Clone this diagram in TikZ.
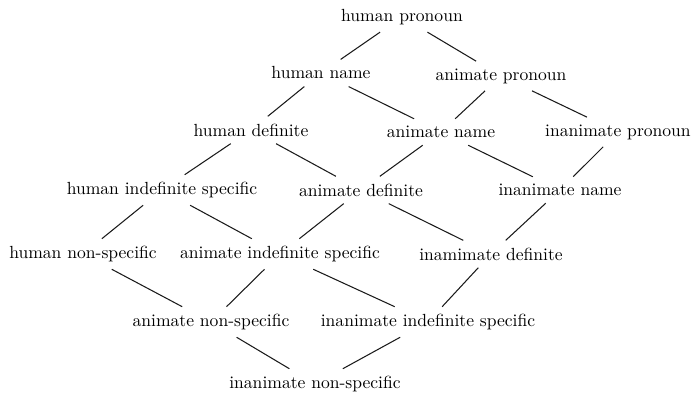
\documentclass[tikz,border=0pt]{standalone}
\usepackage{tikz}
\definecolor{latline}{HTML}{1a1a1a}
\tikzset{
  term/.style={inner xsep=2pt,inner ysep=4pt,font=\fontsize{10}{12}\selectfont},
  link/.style={latline,line width=0.6pt}
}
\begin{document}
\begin{tikzpicture}[x=0.02cm,y=-0.02cm]
  \useasboundingbox (0,0) rectangle (691,394);
  \node[term] (hpron) at (402,17) {human pronoun};
  \node[term] (hname) at (321,73) {human name};
  \node[term] (apron) at (501,76) {animate pronoun};
  \node[term] (hdef) at (251,130) {human definite};
  \node[term] (aname) at (441,132) {animate name};
  \node[term] (ipron) at (618,132) {inanimate pronoun};
  \node[term] (hindef) at (162,190) {human indefinite specific};
  \node[term] (adef) at (361,190) {animate definite};
  \node[term] (iname) at (560,190) {inanimate name};
  \node[term] (hnons) at (83,254) {human non-specific};
  \node[term] (aindef) at (280,254) {animate indefinite specific};
  \node[term] (idef) at (491,254) {inamimate definite};
  \node[term] (anons) at (211,322) {animate non-specific};
  \node[term] (iindef) at (428,322) {inanimate indefinite specific};
  \node[term] (inons) at (315,384) {inanimate non-specific};
  \draw[link] (hpron) -- (hname);
  \draw[link] (hpron) -- (apron);
  \draw[link] (hname) -- (hdef);
  \draw[link] (hname) -- (aname);
  \draw[link] (apron) -- (aname);
  \draw[link] (apron) -- (ipron);
  \draw[link] (hdef) -- (hindef);
  \draw[link] (hdef) -- (adef);
  \draw[link] (aname) -- (adef);
  \draw[link] (aname) -- (iname);
  \draw[link] (ipron) -- (iname);
  \draw[link] (hindef) -- (hnons);
  \draw[link] (hindef) -- (aindef);
  \draw[link] (adef) -- (aindef);
  \draw[link] (adef) -- (idef);
  \draw[link] (iname) -- (idef);
  \draw[link] (hnons) -- (anons);
  \draw[link] (aindef) -- (anons);
  \draw[link] (aindef) -- (iindef);
  \draw[link] (idef) -- (iindef);
  \draw[link] (anons) -- (inons);
  \draw[link] (iindef) -- (inons);
\end{tikzpicture}
\end{document}
